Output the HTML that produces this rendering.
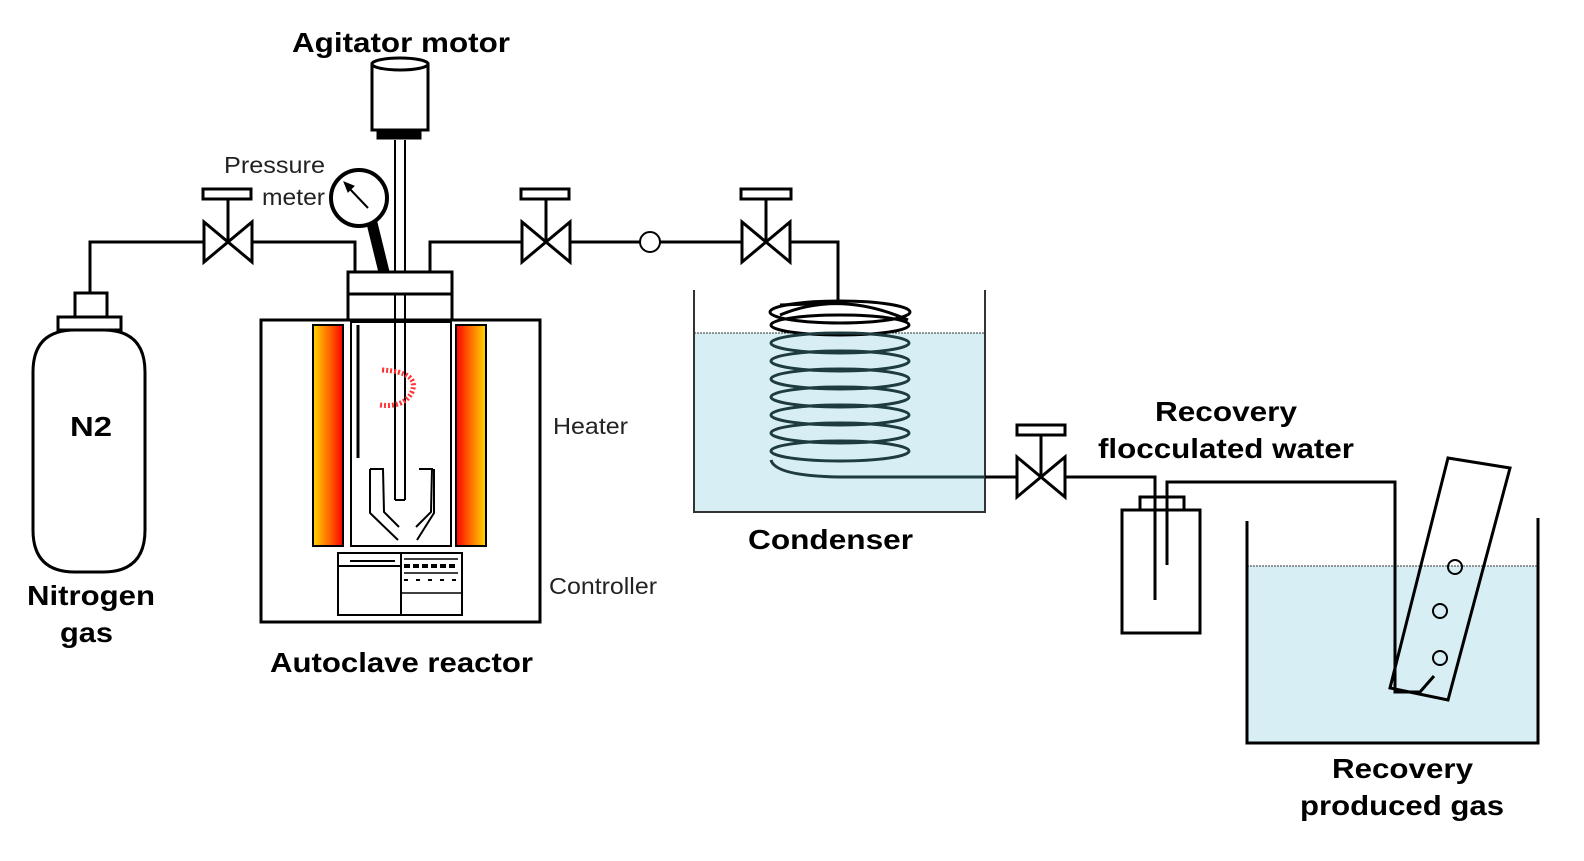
<!DOCTYPE html>
<html><head><meta charset="utf-8"><style>
html,body{margin:0;padding:0;background:#fff;overflow:hidden;width:1584px;height:861px;}
svg{display:block;}
text{font-family:"Liberation Sans",Arial,sans-serif;fill:#000;}
.b{font-weight:bold;font-size:28px;}
.n{font-size:23px;fill:#222;}
</style></head><body>
<svg width="1584" height="861" viewBox="0 0 1584 861" xmlns="http://www.w3.org/2000/svg">
<defs>
<linearGradient id="hl" x1="0" x2="1"><stop offset="0" stop-color="#ffd800"/><stop offset="0.5" stop-color="#ff7000"/><stop offset="1" stop-color="#f00"/></linearGradient>
<linearGradient id="hr" x1="0" x2="1"><stop offset="0" stop-color="#f00"/><stop offset="0.5" stop-color="#ff7000"/><stop offset="1" stop-color="#ffd800"/></linearGradient>
</defs>
<g fill="none" stroke="#000" stroke-width="3">
<path d="M33,372 Q33,330 75,330 L103,330 Q145,330 145,372 L145,530 Q145,572 103,572 L75,572 Q33,572 33,530 Z"/>
<rect x="58" y="317" width="63" height="13" fill="#fff"/>
<rect x="75" y="293" width="32" height="24"/>
<polyline points="90,293 90,242 204,242"/>
<path d="M204,222 L204,262 L252,222 L252,262 Z"/>
<line x1="228" y1="242" x2="228" y2="200"/>
<rect x="203" y="189" width="48" height="10"/>
<polyline points="252,242 355,242 355,272"/>
<polyline points="430,272 430,242 522,242"/>
<path d="M522,222 L522,262 L570,222 L570,262 Z"/>
<line x1="546" y1="242" x2="546" y2="200"/>
<rect x="521" y="189" width="48" height="10"/>
<line x1="570" y1="242" x2="640" y2="242"/>
<circle cx="650" cy="242" r="10" stroke-width="2"/>
<line x1="660" y1="242" x2="742" y2="242"/>
<path d="M742,222 L742,262 L790,222 L790,262 Z"/>
<line x1="766" y1="242" x2="766" y2="200"/>
<rect x="741" y="189" width="50" height="10"/>
<polyline points="790,242 838,242 838,303 780,305"/>
<rect x="372" y="64" width="56" height="66"/>
<ellipse cx="400" cy="64" rx="28" ry="6" fill="#fff"/>
<rect x="378" y="130" width="42" height="8" fill="#000"/>
<line x1="395" y1="140" x2="395" y2="500" stroke-width="2"/>
<line x1="405" y1="140" x2="405" y2="500" stroke-width="2"/>
<line x1="395" y1="500" x2="405" y2="500" stroke-width="2"/>
<line x1="370" y1="215" x2="384" y2="272" stroke-width="11"/>
<circle cx="359" cy="198" r="28" fill="#fff" stroke-width="4"/>
<line x1="368" y1="208" x2="348" y2="187" stroke-width="2"/>
<path d="M344,182 L354,186 L348,192 Z" fill="#000" stroke-width="1"/>
<rect x="348" y="272" width="104" height="22" fill="#fff"/>
<rect x="348" y="294" width="104" height="26"/>
<rect x="261" y="320" width="279" height="302"/>
<rect x="313" y="325" width="30" height="221" fill="url(#hl)" stroke-width="2"/>
<rect x="456" y="325" width="30" height="221" fill="url(#hr)" stroke-width="2"/>
<rect x="351" y="322" width="100" height="224" stroke-width="2"/>
<line x1="358" y1="325" x2="358" y2="458"/>
<path d="M370,469 L383,469 L384,512 L399,527 M416,527 L431,512 L432,469 L419,469 M370,469 L370,513 L398,540 M417,540 L434,513 L434,469" stroke-width="2"/>
<rect x="338" y="553" width="124" height="62" stroke-width="2"/>
<line x1="401" y1="553" x2="401" y2="615" stroke-width="2"/>
<line x1="338" y1="566" x2="401" y2="566" stroke-width="2"/>
<line x1="350" y1="561" x2="395" y2="561" stroke-width="2"/>
<line x1="404" y1="559" x2="458" y2="559" stroke-width="1.5"/>
<line x1="404" y1="566" x2="458" y2="566" stroke-width="4" stroke-dasharray="6,3"/>
<line x1="404" y1="573" x2="458" y2="573" stroke-width="1.5"/>
<line x1="404" y1="580" x2="458" y2="580" stroke-width="2" stroke-dasharray="4,8"/>
<line x1="401" y1="593" x2="462" y2="593" stroke-width="1.5"/>
</g>
<path d="M382,370 Q420,372 412,392 Q404,408 380,405" fill="none" stroke="#f33" stroke-width="5" stroke-dasharray="2,2"/>
<rect x="694" y="333" width="291" height="179" fill="#d6eef4"/>
<line x1="694" y1="333" x2="985" y2="333" stroke="#333" stroke-width="1" stroke-dasharray="2,1"/>
<polyline points="694,290 694,512 985,512 985,290" fill="none" stroke="#333" stroke-width="2"/>
<g fill="none" stroke="#1e3b3f" stroke-width="3">
<ellipse cx="840" cy="312" rx="70" ry="11" stroke="#000"/>
<path d="M780,315 Q840,290 908,320" stroke="#000"/>
<ellipse cx="840" cy="325" rx="69" ry="10" stroke="#000"/>
<ellipse cx="840" cy="343" rx="69" ry="10"/>
<ellipse cx="840" cy="361" rx="69" ry="10"/>
<ellipse cx="840" cy="379" rx="69" ry="10"/>
<ellipse cx="840" cy="397" rx="69" ry="10"/>
<ellipse cx="840" cy="415" rx="69" ry="10"/>
<ellipse cx="840" cy="433" rx="69" ry="10"/>
<ellipse cx="840" cy="451" rx="69" ry="10"/>
<path d="M771,460 Q775,476 840,477 L1000,477"/>
</g>
<rect x="1247" y="566" width="291" height="177" fill="#d6eef4"/>
<line x1="1247" y1="566" x2="1538" y2="566" stroke="#333" stroke-width="1" stroke-dasharray="2,1"/>
<g fill="none" stroke="#000" stroke-width="3">
<polyline points="1247,521 1247,743 1538,743 1538,518"/>
<polyline points="985,477 1017,477"/>
<path d="M1017,457 L1017,497 L1065,457 L1065,497 Z"/>
<line x1="1041" y1="477" x2="1041" y2="435"/>
<rect x="1017" y="425" width="48" height="10"/>
<polyline points="1065,477 1155,477 1155,600"/>
<rect x="1122" y="510" width="78" height="123"/>
<rect x="1140" y="497" width="44" height="13"/>
<polyline points="1167,565 1167,482 1395,482 1395,692 1420,692 1434,676"/>
<path d="M1448,458 L1510,468 L1448,700 L1390,688 Z"/>
<circle cx="1455" cy="567" r="7" stroke-width="2"/>
<circle cx="1440" cy="611" r="7" stroke-width="2"/>
<circle cx="1440" cy="658" r="7" stroke-width="2"/>
</g>
<text class="b" x="292" y="52" textLength="218" lengthAdjust="spacingAndGlyphs">Agitator motor</text>
<text class="n" x="224" y="173" textLength="101" lengthAdjust="spacingAndGlyphs">Pressure</text>
<text class="n" x="262" y="205" textLength="63" lengthAdjust="spacingAndGlyphs">meter</text>
<text class="b" x="70" y="436" textLength="42" lengthAdjust="spacingAndGlyphs">N2</text>
<text class="b" x="27" y="605" textLength="128" lengthAdjust="spacingAndGlyphs">Nitrogen</text>
<text class="b" x="60" y="642" textLength="53" lengthAdjust="spacingAndGlyphs">gas</text>
<text class="n" x="553" y="434" textLength="75" lengthAdjust="spacingAndGlyphs">Heater</text>
<text class="n" x="549" y="594" textLength="108" lengthAdjust="spacingAndGlyphs">Controller</text>
<text class="b" x="270" y="672" textLength="263" lengthAdjust="spacingAndGlyphs">Autoclave reactor</text>
<text class="b" x="748" y="549" textLength="165" lengthAdjust="spacingAndGlyphs">Condenser</text>
<text class="b" x="1155" y="421" textLength="142" lengthAdjust="spacingAndGlyphs">Recovery</text>
<text class="b" x="1098" y="458" textLength="256" lengthAdjust="spacingAndGlyphs">flocculated water</text>
<text class="b" x="1332" y="778" textLength="141" lengthAdjust="spacingAndGlyphs">Recovery</text>
<text class="b" x="1300" y="815" textLength="204" lengthAdjust="spacingAndGlyphs">produced gas</text>
</svg>
</body></html>
